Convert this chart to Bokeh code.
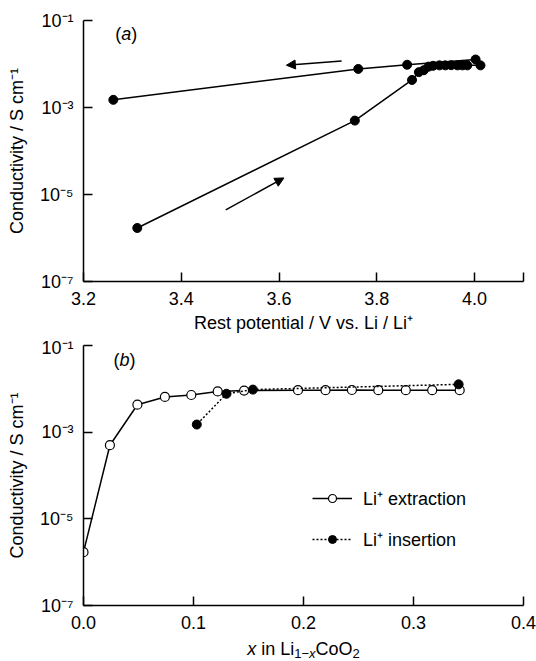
from bokeh.plotting import figure
from bokeh.models import (Range1d, FixedTicker, Label, Arrow, NormalHead,
                          Legend, LegendItem)
from bokeh.layouts import column
from bokeh.embed import file_html
from bokeh.resources import INLINE

# ---------------- data ----------------
# (a) conductivity vs rest potential
charge_potential = [3.310, 3.755, 3.872, 3.886, 3.896, 3.906, 3.915, 3.928,
                    3.940, 3.952, 3.965, 3.975, 3.985, 4.012]
discharge_potential = [4.002, 3.862, 3.762, 3.261]
# (b) conductivity vs x in Li(1-x)CoO2
extraction_x = [0.000, 0.024, 0.049, 0.074, 0.098, 0.122, 0.146, 0.195,
                0.220, 0.244, 0.268, 0.293, 0.317, 0.342]
extraction_sigma = [1.7e-6, 5.0e-4, 4.3e-3, 6.5e-3, 7.2e-3, 8.7e-3, 9.1e-3,
                    9.3e-3, 9.3e-3, 9.4e-3, 9.3e-3, 9.3e-3, 9.3e-3, 9.3e-3]
insertion_x = [0.341, 0.154, 0.130, 0.103]
insertion_sigma = [1.27e-2, 9.6e-3, 7.7e-3, 1.5e-3]

y_ticks = [1e-7, 1e-5, 1e-3, 1e-1]
y_tick_labels = ["10\u207b\u2077", "10\u207b\u2075", "10\u207b\u00b3", "10\u207b\u00b9"]
xa_ticks = [3.2, 3.4, 3.6, 3.8, 4.0, 4.1]
xa_tick_labels = ["3.2", "3.4", "3.6", "3.8", "4.0", ""]
xb_ticks = [0.0, 0.1, 0.2, 0.3, 0.4]
xb_tick_labels = ["0.0", "0.1", "0.2", "0.3", "0.4"]

FONT = "Liberation Sans"
FS = "18px"


def style(p):
    p.outline_line_color = None
    p.xgrid.grid_line_color = None
    p.ygrid.grid_line_color = None
    p.background_fill_color = "white"
    p.border_fill_color = "white"
    for ax in (p.xaxis[0], p.yaxis[0]):
        ax.axis_line_width = 1.5
        ax.axis_line_color = "black"
        ax.major_tick_line_width = 1.5
        ax.major_tick_line_color = "black"
        ax.major_tick_in = 9
        ax.major_tick_out = 0
        ax.minor_tick_in = 0
        ax.minor_tick_out = 0
        ax.major_label_text_font = FONT
        ax.major_label_text_font_size = FS
        ax.major_label_text_color = "black"
        ax.axis_label_text_font = FONT
        ax.axis_label_text_font_size = FS
        ax.axis_label_text_font_style = "normal"
        ax.axis_label_text_color = "black"
    p.yaxis[0].ticker = FixedTicker(ticks=y_ticks, minor_ticks=[])
    p.yaxis[0].major_label_overrides = dict(zip(y_ticks, y_tick_labels))
    p.yaxis[0].major_label_standoff = 10
    p.yaxis[0].axis_label = "Conductivity / S cm\u207b\u00b9"
    p.yaxis[0].axis_label_standoff = 10


# ---------------- panel (a) ----------------
pa = figure(frame_width=440, frame_height=261, title=None,
            x_range=Range1d(3.2, 4.1), y_range=Range1d(1e-7, 1e-1),
            y_axis_type="log", output_backend="svg", toolbar_location=None,
            min_border_left=83, min_border_right=13, min_border_top=20,
            min_border_bottom=56)
style(pa)
pa.xaxis[0].ticker = FixedTicker(ticks=xa_ticks, minor_ticks=[])
pa.xaxis[0].major_label_overrides = dict(zip(xa_ticks, xa_tick_labels))
pa.xaxis[0].major_label_standoff = 10
pa.xaxis[0].axis_label = "Rest potential / V vs. Li / Li\u207a"
pa.xaxis[0].axis_label_standoff = 5

loop_potential = charge_potential + discharge_potential
loop_sigma = extraction_sigma + insertion_sigma
pa.line(loop_potential, loop_sigma, line_color="black", line_width=1.5)
pa.scatter(loop_potential, loop_sigma, size=9, fill_color="black",
           line_color="black")

pa.add_layout(Arrow(x_start=3.728, y_start=10 ** -1.929, x_end=3.615,
                    y_end=10 ** -2.028, line_width=1.5, line_color="black",
                    end=NormalHead(size=9, fill_color="black",
                                   line_color="black")))
pa.add_layout(Arrow(x_start=3.491, y_start=10 ** -5.353, x_end=3.610,
                    y_end=10 ** -4.619, line_width=1.5, line_color="black",
                    end=NormalHead(size=9, fill_color="black",
                                   line_color="black")))

for txt, dx, sty in [("(", 0.0, "normal"), ("a", 6.0, "italic"),
                     (")", 16.0, "normal")]:
    pa.add_layout(Label(x=3.265, y=1e-1, x_offset=dx, y_offset=-13, text=txt,
                        text_font=FONT, text_font_size=FS,
                        text_font_style=sty, text_baseline="alphabetic",
                        text_align="left", text_color="black"))

# ---------------- panel (b) ----------------
pb = figure(frame_width=440, frame_height=260, title=None,
            x_range=Range1d(0.0, 0.4), y_range=Range1d(1e-7, 1e-1),
            y_axis_type="log", output_backend="svg", toolbar_location=None,
            min_border_left=83, min_border_right=13, min_border_top=8,
            min_border_bottom=33)
style(pb)
pb.xaxis[0].ticker = FixedTicker(ticks=xb_ticks, minor_ticks=[])
pb.xaxis[0].major_label_overrides = dict(zip(xb_ticks, xb_tick_labels))
pb.xaxis[0].major_label_standoff = 10

l1 = pb.line(extraction_x, extraction_sigma, line_color="black", line_width=1.5)
s1 = pb.scatter(extraction_x, extraction_sigma, size=9, fill_color="white",
                line_color="black", line_width=1.2)
l2 = pb.line(insertion_x, insertion_sigma, line_color="black", line_width=1.5,
             line_dash="2 2")
s2 = pb.scatter(insertion_x, insertion_sigma, size=9, fill_color="black",
                line_color="black")

legend = Legend(items=[LegendItem(label="Li\u207a extraction", renderers=[l1, s1]),
                       LegendItem(label="Li\u207a insertion", renderers=[l2, s2])],
                location=(229, 54), padding=0, margin=0, spacing=17,
                glyph_width=40, glyph_height=20, label_height=20,
                label_standoff=11, label_text_font=FONT,
                label_text_font_size=FS, label_text_color="black",
                background_fill_alpha=0, border_line_alpha=0)
pb.add_layout(legend)

for txt, dx, sty in [("(", 0.0, "normal"), ("b", 6.0, "italic"),
                     (")", 16.0, "normal")]:
    pb.add_layout(Label(x=0.0273, y=1e-1, x_offset=dx, y_offset=-14, text=txt,
                        text_font=FONT, text_font_size=FS,
                        text_font_style=sty, text_baseline="alphabetic",
                        text_align="left", text_color="black"))

# ---------------- x-axis title strip for panel (b) ----------------
# "x in Li(1-x)CoO2" with italic x and subscripts, drawn as text pieces
pt = figure(frame_width=440, frame_height=23, title=None,
            x_range=pb.x_range, y_range=Range1d(0, 23),
            x_axis_location=None, y_axis_location=None,
            output_backend="svg", toolbar_location=None,
            min_border_left=83, min_border_right=13, min_border_top=0,
            min_border_bottom=0)
pt.outline_line_color = None
pt.xgrid.grid_line_color = None
pt.ygrid.grid_line_color = None
pt.background_fill_color = "white"
pt.border_fill_color = "white"

parts = [("x", -56.3, 0, "18px", "italic"),
         ("in Li", -42.3, 0, "18px", "normal"),
         ("1\u2212", -9.3, -5, "13px", "normal"),
         ("x", 5.5, -5, "13px", "italic"),
         ("CoO", 12.0, 0, "18px", "normal"),
         ("2", 49.0, -5, "13px", "normal")]
for txt, dx, dy, fs, sty in parts:
    pt.add_layout(Label(x=0.2, y=13, x_offset=dx, y_offset=dy,
                        text=txt, text_font=FONT, text_font_size=fs,
                        text_font_style=sty, text_baseline="alphabetic",
                        text_align="left", text_color="black"))

layout = column(pa, pb, pt, spacing=0)
open("out.html", "w").write(file_html(layout, INLINE))
